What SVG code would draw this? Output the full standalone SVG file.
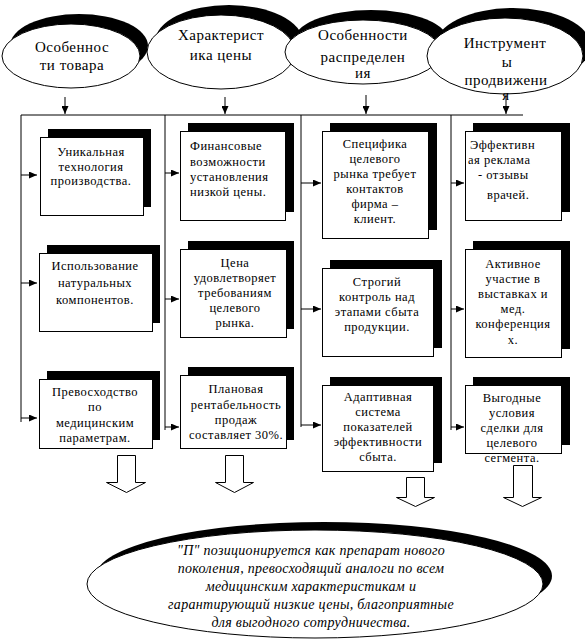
<svg xmlns="http://www.w3.org/2000/svg" width="585" height="641" viewBox="0 0 585 641">
<style>
.sh{fill:#000;stroke:none}
.bx{fill:#fff;stroke:#000;stroke-width:1}
.el{fill:#fff;stroke:#000;stroke-width:1}
.ln{fill:none;stroke:#000;stroke-width:1}
.ba{fill:#fff;stroke:#000;stroke-width:1}
text{font-family:'Liberation Serif','DejaVu Serif',serif;fill:#000}
.ht{font-size:15px;letter-spacing:0.5px;text-anchor:middle}
.t{font-size:12.5px;letter-spacing:0.5px;text-anchor:middle}
.tl{text-anchor:start}
.it{font-size:14px;font-style:italic;letter-spacing:0.3px;text-anchor:middle}
</style>
<defs>
<marker id="ah" viewBox="0 0 8 7" refX="8" refY="3.5" markerWidth="8" markerHeight="7" markerUnits="userSpaceOnUse" orient="auto"><path d="M0,0 L8,3.5 L0,7 z" fill="#000"/></marker>
</defs>

<g id="head1">
<ellipse class="sh" cx="79" cy="46" rx="69" ry="32"/>
<ellipse class="el" cx="71" cy="56" rx="69" ry="32"/>
<text class="ht" x="72" y="52">Особеннос</text>
<text class="ht" x="72" y="70">ти товара</text>
</g>
<g id="head2">
<ellipse class="sh" cx="229" cy="42" rx="74" ry="37"/>
<ellipse class="el" cx="221" cy="52" rx="74" ry="37"/>
<text class="ht" x="221" y="40">Характерист</text>
<text class="ht" x="221" y="60">ика цены</text>
</g>
<g id="head3">
<ellipse class="sh" cx="371" cy="42" rx="78" ry="32"/>
<ellipse class="el" cx="363" cy="52" rx="78" ry="32"/>
<text class="ht" x="363" y="40">Особенности</text>
<text class="ht" x="363" y="62">распределен</text>
<text class="ht" x="363" y="78">ия</text>
</g>
<g id="head4">
<ellipse class="sh" cx="513" cy="46" rx="78" ry="38"/>
<ellipse class="el" cx="505" cy="56" rx="78" ry="38"/>
<text class="ht" x="505" y="48">Инструмент</text>
<text class="ht" x="507" y="67">ы</text>
<text class="ht" x="506" y="85">продвижени</text>
<text class="ht" x="506" y="100">я</text>
</g>

<g id="connectors">
<line class="ln" x1="65" y1="97" x2="65" y2="114" marker-end="url(#ah)"/>
<line class="ln" x1="225" y1="97" x2="225" y2="114" marker-end="url(#ah)"/>
<line class="ln" x1="366" y1="95" x2="366" y2="114" marker-end="url(#ah)"/>
<line class="ln" x1="506" y1="95" x2="506" y2="114" marker-end="url(#ah)"/>
<line class="ln" x1="21" y1="115" x2="523" y2="115"/>
<line class="ln" x1="21" y1="115" x2="21" y2="422"/>
<line class="ln" x1="165" y1="115" x2="165" y2="430"/>
<line class="ln" x1="301" y1="115" x2="301" y2="427"/>
<line class="ln" x1="451" y1="115" x2="451" y2="430"/>
<line class="ln" x1="21" y1="175" x2="37" y2="175" marker-end="url(#ah)"/>
<line class="ln" x1="21" y1="283" x2="37" y2="283" marker-end="url(#ah)"/>
<line class="ln" x1="21" y1="418" x2="37" y2="418" marker-end="url(#ah)"/>
<line class="ln" x1="165" y1="173" x2="179" y2="173" marker-end="url(#ah)"/>
<line class="ln" x1="165" y1="299" x2="179" y2="299" marker-end="url(#ah)"/>
<line class="ln" x1="165" y1="427" x2="179" y2="427" marker-end="url(#ah)"/>
<line class="ln" x1="301" y1="183" x2="321" y2="183" marker-end="url(#ah)"/>
<line class="ln" x1="301" y1="309" x2="321" y2="309" marker-end="url(#ah)"/>
<line class="ln" x1="301" y1="425" x2="321" y2="425" marker-end="url(#ah)"/>
<line class="ln" x1="451" y1="183" x2="464" y2="183" marker-end="url(#ah)"/>
<line class="ln" x1="451" y1="309" x2="464" y2="309" marker-end="url(#ah)"/>
<line class="ln" x1="451" y1="427" x2="464" y2="427" marker-end="url(#ah)"/>
</g>

<g id="box1">
<rect class="sh" x="48" y="129" width="103" height="78"/>
<rect class="bx" x="40.5" y="137.5" width="103" height="78"/>
<text class="t" x="91" y="156">Уникальная</text>
<text class="t" x="91" y="171">технология</text>
<text class="t" x="91" y="185">производства.</text>
</g>
<g id="box2">
<rect class="sh" x="47" y="245" width="113" height="78"/>
<rect class="bx" x="39.5" y="253.5" width="113" height="78"/>
<text class="t" x="95" y="270">Использование</text>
<text class="t" x="95" y="287">натуральных</text>
<text class="t" x="95" y="304">компонентов.</text>
</g>
<g id="box3">
<rect class="sh" x="47" y="371" width="113" height="69"/>
<rect class="bx" x="39.5" y="379.5" width="113" height="69"/>
<text class="t" x="95" y="396">Превосходство</text>
<text class="t" x="95" y="411">по</text>
<text class="t" x="95" y="427">медицинским</text>
<text class="t" x="95" y="442">параметрам.</text>
</g>

<g id="box4">
<rect class="sh" x="188" y="123" width="106" height="89"/>
<rect class="bx" x="180.5" y="131.5" width="105" height="89"/>
<text class="t tl" x="190" y="150">Финансовые</text>
<text class="t tl" x="190" y="166">возможности</text>
<text class="t tl" x="190" y="181">установления</text>
<text class="t tl" x="190" y="196">низкой цены.</text>
</g>
<g id="box5">
<rect class="sh" x="188" y="241" width="106" height="88"/>
<rect class="bx" x="180.5" y="249.5" width="106" height="88"/>
<text class="t" x="235" y="267">Цена</text>
<text class="t" x="235" y="282">удовлетворяет</text>
<text class="t" x="235" y="297">требованиям</text>
<text class="t" x="235" y="312">целевого</text>
<text class="t" x="235" y="327">рынка.</text>
</g>
<g id="box6">
<rect class="sh" x="188" y="367" width="106" height="73"/>
<rect class="bx" x="180.5" y="375.5" width="106" height="73"/>
<text class="t" x="236" y="393">Плановая</text>
<text class="t" x="236" y="409">рентабельность</text>
<text class="t" x="236" y="424">продаж</text>
<text class="t" x="236" y="439">составляет 30%.</text>
</g>

<g id="box7">
<rect class="sh" x="330" y="123" width="107" height="107"/>
<rect class="bx" x="322.5" y="131.5" width="106" height="107"/>
<text class="t" x="375" y="148">Специфика</text>
<text class="t" x="375" y="163">целевого</text>
<text class="t" x="375" y="178">рынка требует</text>
<text class="t" x="375" y="193">контактов</text>
<text class="t" x="375" y="208">фирма –</text>
<text class="t" x="375" y="223">клиент.</text>
</g>
<g id="box8">
<rect class="sh" x="330" y="260" width="112" height="88"/>
<rect class="bx" x="322.5" y="268.5" width="111" height="88"/>
<text class="t" x="377" y="286">Строгий</text>
<text class="t" x="377" y="301">контроль над</text>
<text class="t" x="377" y="316">этапами сбыта</text>
<text class="t" x="377" y="331">продукции.</text>
</g>
<g id="box9">
<rect class="sh" x="330" y="377" width="112" height="86"/>
<rect class="bx" x="322.5" y="385.5" width="111" height="86"/>
<text class="t" x="378" y="401">Адаптивная</text>
<text class="t" x="378" y="416">система</text>
<text class="t" x="378" y="431">показателей</text>
<text class="t" x="378" y="446">эффективности</text>
<text class="t" x="378" y="461">сбыта.</text>
</g>

<g id="box10">
<rect class="sh" x="473" y="123" width="97" height="89"/>
<rect class="bx" x="465.5" y="131.5" width="96" height="89"/>
<text class="t tl" x="470" y="149">Эффективн</text>
<text class="t tl" x="468" y="164">ая реклама</text>
<text class="t tl" x="478" y="179">- отзывы</text>
<text class="t tl" x="487" y="199">врачей.</text>
</g>
<g id="box11">
<rect class="sh" x="473" y="241" width="97" height="108"/>
<rect class="bx" x="465.5" y="249.5" width="96" height="108"/>
<text class="t" x="513" y="268">Активное</text>
<text class="t" x="513" y="283">участие в</text>
<text class="t" x="513" y="298">выставках и</text>
<text class="t" x="513" y="313">мед.</text>
<text class="t" x="513" y="328">конференция</text>
<text class="t" x="513" y="344">х.</text>
</g>
<g id="box12">
<rect class="sh" x="473" y="377" width="97" height="68"/>
<rect class="bx" x="465.5" y="385.5" width="96" height="68"/>
<text class="t" x="512" y="402">Выгодные</text>
<text class="t" x="512" y="417">условия</text>
<text class="t" x="512" y="432">сделки для</text>
<text class="t" x="512" y="447">целевого</text>
<text class="t" x="512" y="462">сегмента.</text>
</g>

<g id="blockarrows">
<path class="ba" d="M117.5,455.5 H135.5 V482.5 H145.5 L126.5,492.5 L106.5,482.5 H117.5 Z"/>
<path class="ba" d="M225.5,455.5 H243.5 V482.5 H253.5 L234.5,492.5 L215.5,482.5 H225.5 Z"/>
<path class="ba" d="M406.5,477.5 H424.5 V497.5 H434.5 L415.5,506.5 L396.5,497.5 H406.5 Z"/>
<path class="ba" d="M513.5,465.5 H532.5 V497.5 H541.5 L522.5,506.5 L503.5,497.5 H513.5 Z"/>
</g>

<g id="result">
<ellipse class="sh" cx="324" cy="576" rx="228" ry="54"/>
<ellipse class="el" cx="315" cy="584" rx="228" ry="54"/>
<text class="it" x="311" y="555">"П" позиционируется как препарат нового</text>
<text class="it" x="311" y="573">поколения, превосходящий аналоги по всем</text>
<text class="it" x="311" y="591">медицинским характеристикам и</text>
<text class="it" x="311" y="609">гарантирующий низкие цены, благоприятные</text>
<text class="it" x="311" y="627">для выгодного сотрудничества.</text>
</g>
</svg>
